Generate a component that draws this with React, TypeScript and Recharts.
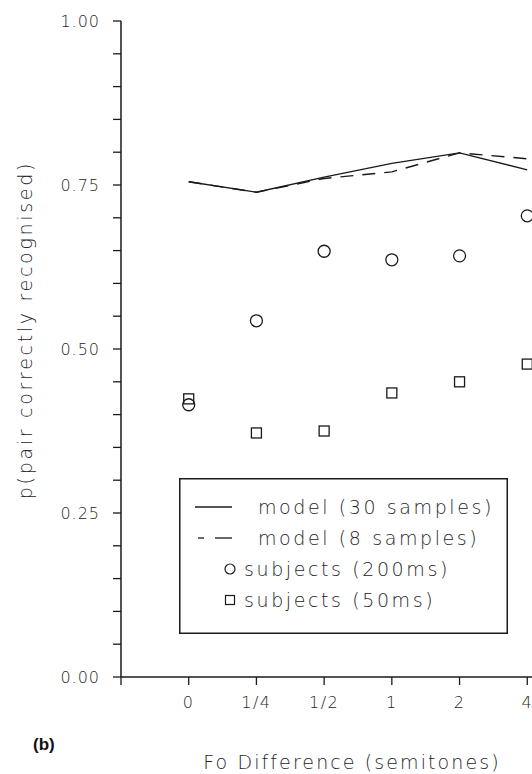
import React from "react";
import { ComposedChart, Line, XAxis, YAxis, Legend, Label } from "recharts";

const xLabels = ["0", "1/4", "1/2", "1", "2", "4"];
const model30 = [0.755, 0.739, 0.762, 0.783, 0.799, 0.773];
const model8 = [0.755, 0.739, 0.76, 0.77, 0.799, 0.79];
const subjects200 = [0.415, 0.543, 0.649, 0.636, 0.642, 0.703];
const subjects50 = [0.424, 0.372, 0.375, 0.433, 0.45, 0.477];

const yTicks = [0, 0.05, 0.1, 0.15, 0.2, 0.25, 0.3, 0.35, 0.4, 0.45, 0.5, 0.55, 0.6, 0.65, 0.7, 0.75, 0.8, 0.85, 0.9, 0.95, 1];
const yLabelTicks = [0, 0.25, 0.5, 0.75, 1];
const xTicks = [-1, 0, 1, 2, 3, 4, 5];

const legendRows = ["model (30 samples)", "model (8 samples)", "subjects (200ms)", "subjects (50ms)"];

const data = xLabels.map((label, i) => ({
  x: i,
  label,
  m30: model30[i],
  m8: model8[i],
  s200: subjects200[i],
  s50: subjects50[i],
}));

const ink = "#1a1a1a";
const textInk = "#262626";
const font = "'DejaVu Sans', sans-serif";

const SquareDot = (props: any) => {
  const { cx, cy, index } = props;
  if (cx == null || cy == null) return <g key={index} />;
  return <rect key={index} x={cx - 5} y={cy - 5} width={10} height={10} fill="none" stroke={ink} strokeWidth={1.3} />;
};

const CircleDot = (props: any) => {
  const { cx, cy, index } = props;
  if (cx == null || cy == null) return <g key={index} />;
  return <circle key={index} cx={cx} cy={cy} r={6} fill="none" stroke={ink} strokeWidth={1.3} />;
};

const LegendBox = () => {
  const rowY = [29, 60, 91, 122];
  const txt = { fontFamily: font, fontSize: 19, fontWeight: 200, fill: textInk, letterSpacing: 2.6 };
  return (
    <svg width={329} height={156} style={{ display: "block" }}>
      <rect x={0.75} y={0.75} width={327.5} height={154.5} fill="#fff" stroke={ink} strokeWidth={1.5} />
      <line x1={16} x2={53} y1={rowY[0]} y2={rowY[0]} stroke={ink} strokeWidth={1.3} />
      <line x1={19} x2={25} y1={rowY[1]} y2={rowY[1]} stroke={ink} strokeWidth={1.3} />
      <line x1={36} x2={53} y1={rowY[1]} y2={rowY[1]} stroke={ink} strokeWidth={1.3} />
      <circle cx={51} cy={rowY[2]} r={5} fill="none" stroke={ink} strokeWidth={1.2} />
      <rect x={46.5} y={rowY[3] - 4.5} width={9} height={9} fill="none" stroke={ink} strokeWidth={1.2} />
      {legendRows.map((r, i) => (
        <text key={r} x={i < 2 ? 79 : 65} y={rowY[i]} dy="0.35em" style={txt}>
          {r}
        </text>
      ))}
    </svg>
  );
};

const XTitle = () => (
  <g>
    <text x={33} y={744} dy="0.35em" style={{ fontFamily: "'Liberation Sans', sans-serif", fontWeight: 700, fontSize: 17, fill: "#111" }}>
      (b)
    </text>
    <text x={352} y={762} dy="0.35em" textAnchor="middle" style={{ fontFamily: font, fontSize: 19, fontWeight: 200, fill: textInk, letterSpacing: 2.1 }}>
      Fo Difference (semitones)
    </text>
  </g>
);

const YTitle = () => (
  <text
    x={25}
    y={330}
    dy="0.35em"
    textAnchor="middle"
    transform="rotate(-90 25 330)"
    style={{ fontFamily: font, fontSize: 19, fontWeight: 200, fill: textInk, letterSpacing: 2.7 }}
  >
    p(pair correctly recognised)
  </text>
);

export default function App() {
  return (
    <div style={{ position: "absolute", left: 0, top: 0, background: "#fff" }}>
      <ComposedChart width={532} height={774} data={data} margin={{ top: 21, right: 0, bottom: 0, left: 0 }}>
        <XAxis
          type="number"
          dataKey="x"
          domain={[-1, 5.07]}
          ticks={xTicks}
          interval={0}
          tickFormatter={(v: number) => xLabels[v] ?? ""}
          height={97}
          tickSize={8}
          tickMargin={12}
          axisLine={{ stroke: ink, strokeWidth: 1.5 }}
          tickLine={{ stroke: ink, strokeWidth: 1.3 }}
          tick={{ fontFamily: font, fontSize: 16, fontWeight: 200, fill: textInk, letterSpacing: 1.5 }}
        >
          <Label content={<XTitle />} />
        </XAxis>
        <YAxis
          type="number"
          domain={[0, 1]}
          ticks={yTicks}
          interval={0}
          width={121}
          tickFormatter={(v: number) => (yLabelTicks.includes(v) ? v.toFixed(2) : "")}
          tickSize={8}
          tickMargin={13}
          axisLine={{ stroke: ink, strokeWidth: 1.5 }}
          tickLine={{ stroke: ink, strokeWidth: 1.3 }}
          tick={{ fontFamily: font, fontSize: 16, fontWeight: 200, fill: textInk, letterSpacing: 1 }}
        >
          <Label content={<YTitle />} />
        </YAxis>
        <Legend
          layout="vertical"
          align="center"
          verticalAlign="middle"
          wrapperStyle={{ left: 179, top: 478, width: 329, height: 156 }}
          content={<LegendBox />}
        />
        <Line dataKey="m30" type="linear" stroke={ink} strokeWidth={1.4} dot={false} isAnimationActive={false} />
        <Line dataKey="m8" type="linear" stroke={ink} strokeWidth={1.4} strokeDasharray="13 9" dot={false} isAnimationActive={false} />
        <Line dataKey="s200" stroke="none" dot={<CircleDot />} activeDot={false} isAnimationActive={false} />
        <Line dataKey="s50" stroke="none" dot={<SquareDot />} activeDot={false} isAnimationActive={false} />
      </ComposedChart>
    </div>
  );
}
